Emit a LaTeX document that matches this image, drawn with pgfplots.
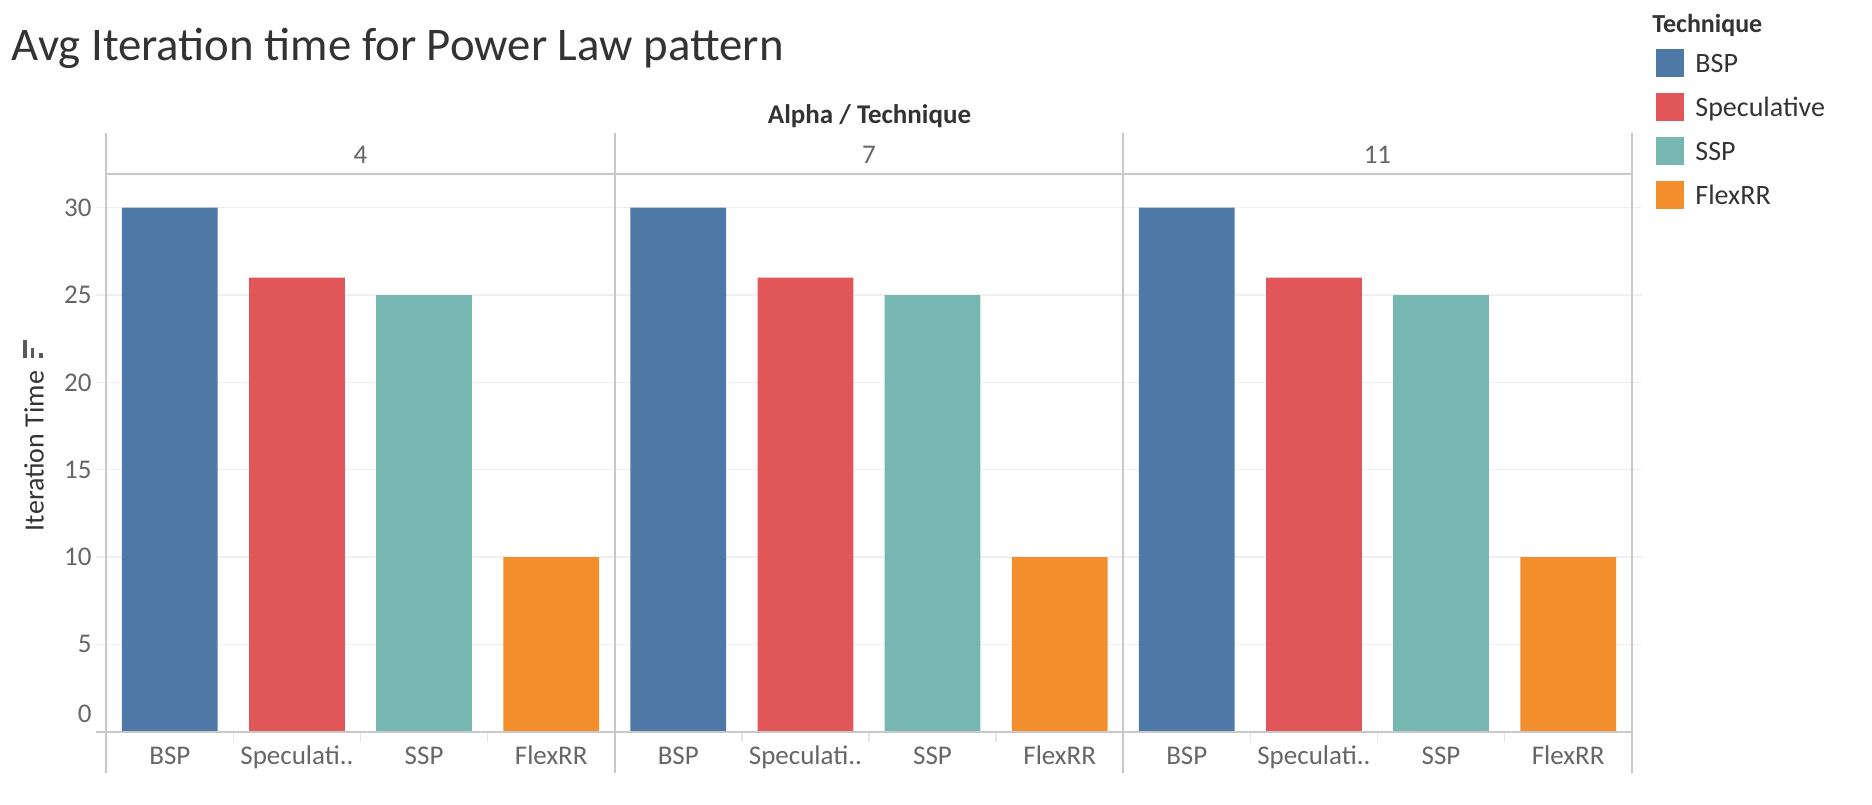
\documentclass[border=0pt]{standalone}
\usepackage{pgfplots}
\pgfplotsset{compat=1.18}
\usepackage{fontspec}
\setmainfont{Carlito}
\definecolor{bsp}{HTML}{4E79A7}
\definecolor{spec}{HTML}{E15759}
\definecolor{ssp}{HTML}{76B7B2}
\definecolor{flex}{HTML}{F28E2B}
\definecolor{gridc}{HTML}{F0F0F0}
\definecolor{linec}{HTML}{C8C8C8}
\definecolor{sepc}{HTML}{E6E6E6}
\definecolor{labc}{HTML}{666666}
\definecolor{darkc}{HTML}{333333}
\begin{document}
\begin{tikzpicture}
\path[use as bounding box] (-53.15pt,-36.15pt) rectangle (882.85pt,365.85pt);
\begin{axis}[
    scale only axis, width=762.7pt, height=278.85pt,
    xmin=0, xmax=12, ymin=0, ymax=31.93,
    ybar, bar width=0.753, bar shift=0pt,
    axis line style={draw=none},
    clip=false,
    ytick={5,10,...,30},
    extra y ticks={0},
    extra y tick style={yticklabel style={yshift=9pt}, ytick style={draw=none}},
    ymajorgrids, major grid style={gridc, line width=0.75pt},
    ytick style={gridc, line width=0.75pt}, tick align=outside, major tick length=5pt,
    xtick={0.5,1.5,...,11.5}, xtick style={draw=none},
    xticklabels={BSP,Speculati..,SSP,FlexRR,BSP,Speculati..,SSP,FlexRR,BSP,Speculati..,SSP,FlexRR},
    xticklabel style={anchor=base, yshift=-11.15pt, font=\fontsize{13.5}{16}\selectfont, text=labc},
    yticklabel style={anchor=east, inner sep=0pt, xshift=-2.2pt, font=\fontsize{13.5}{16}\selectfont, text=labc},
    /pgf/number format/assume math mode=true,
]
\addplot[fill=bsp, draw=none] coordinates {(0.5,30) (4.5,30) (8.5,30)};
\addplot[fill=spec, draw=none] coordinates {(1.5,26) (5.5,26) (9.5,26)};
\addplot[fill=ssp, draw=none] coordinates {(2.5,25) (6.5,25) (10.5,25)};
\addplot[fill=flex, draw=none] coordinates {(3.5,10) (7.5,10) (11.5,10)};
\end{axis}
% panel frame
\foreach \px in {0,254.23,508.47,762.7} {
  \draw[linec, line width=0.8pt] (\px pt,-20.65pt) -- (\px pt,299.2pt);
}
\draw[linec, line width=0.8pt] (0pt,278.85pt) -- (762.7pt,278.85pt);
\draw[linec, line width=1pt] (-5.15pt,0pt) -- (762.7pt,0pt);
\foreach \c in {1,2,3,5,6,7,9,10,11} {
  \draw[sepc, line width=0.7pt] ({\c*762.7pt/12},-0.5pt) -- ({\c*762.7pt/12},-5pt);
}
% panel headers
\node[anchor=base, text=labc, font=\fontsize{13.5}{16}\selectfont, inner sep=0pt] at (127.12pt,283.85pt) {4};
\node[anchor=base, text=labc, font=\fontsize{13.5}{16}\selectfont, inner sep=0pt] at (381.35pt,283.85pt) {7};
\node[anchor=base, text=labc, font=\fontsize{13.5}{16}\selectfont, inner sep=0pt] at (635.58pt,283.85pt) {11};
\node[anchor=base, text=darkc, font=\bfseries\fontsize{13.5}{16}\selectfont, inner sep=0pt] at (381.6pt,304.2pt) {Alpha / Technique};
% y axis title and sort icon
\node[text=darkc, font=\fontsize{14}{16}\selectfont, rotate=90, inner sep=0pt] at (-36.15pt,140.35pt) {Iteration Time};
\fill[black!65] (-41.8pt,186.7pt) rectangle (-39.8pt,195.85pt);
\fill[black!65] (-37.65pt,186.7pt) rectangle (-36pt,191.7pt);
\fill[black!65] (-33.5pt,186.7pt) rectangle (-31.8pt,189.2pt);
% title
\node[anchor=base west, text=darkc, font=\fontsize{23.4}{28}\selectfont, inner sep=0pt] at (-47.4pt,335.35pt) {Avg Iteration time for Power Law pattern};
% legend
\node[anchor=base west, text=darkc, font=\bfseries\fontsize{13}{15}\selectfont, inner sep=0pt] at (772.85pt,349.35pt) {Technique};
\foreach \k/\col/\name in {0/bsp/BSP,1/spec/Speculative,2/ssp/SSP,3/flex/FlexRR} {
  \fill[\col] (774.85pt,{341.35pt-\k*22pt}) rectangle (788.85pt,{327.5pt-\k*22pt});
  \node[anchor=base west, text=darkc, font=\fontsize{14}{16}\selectfont, inner sep=0pt] at (794.35pt,{329.35pt-\k*22pt}) {\name};
}
\end{tikzpicture}
\end{document}
